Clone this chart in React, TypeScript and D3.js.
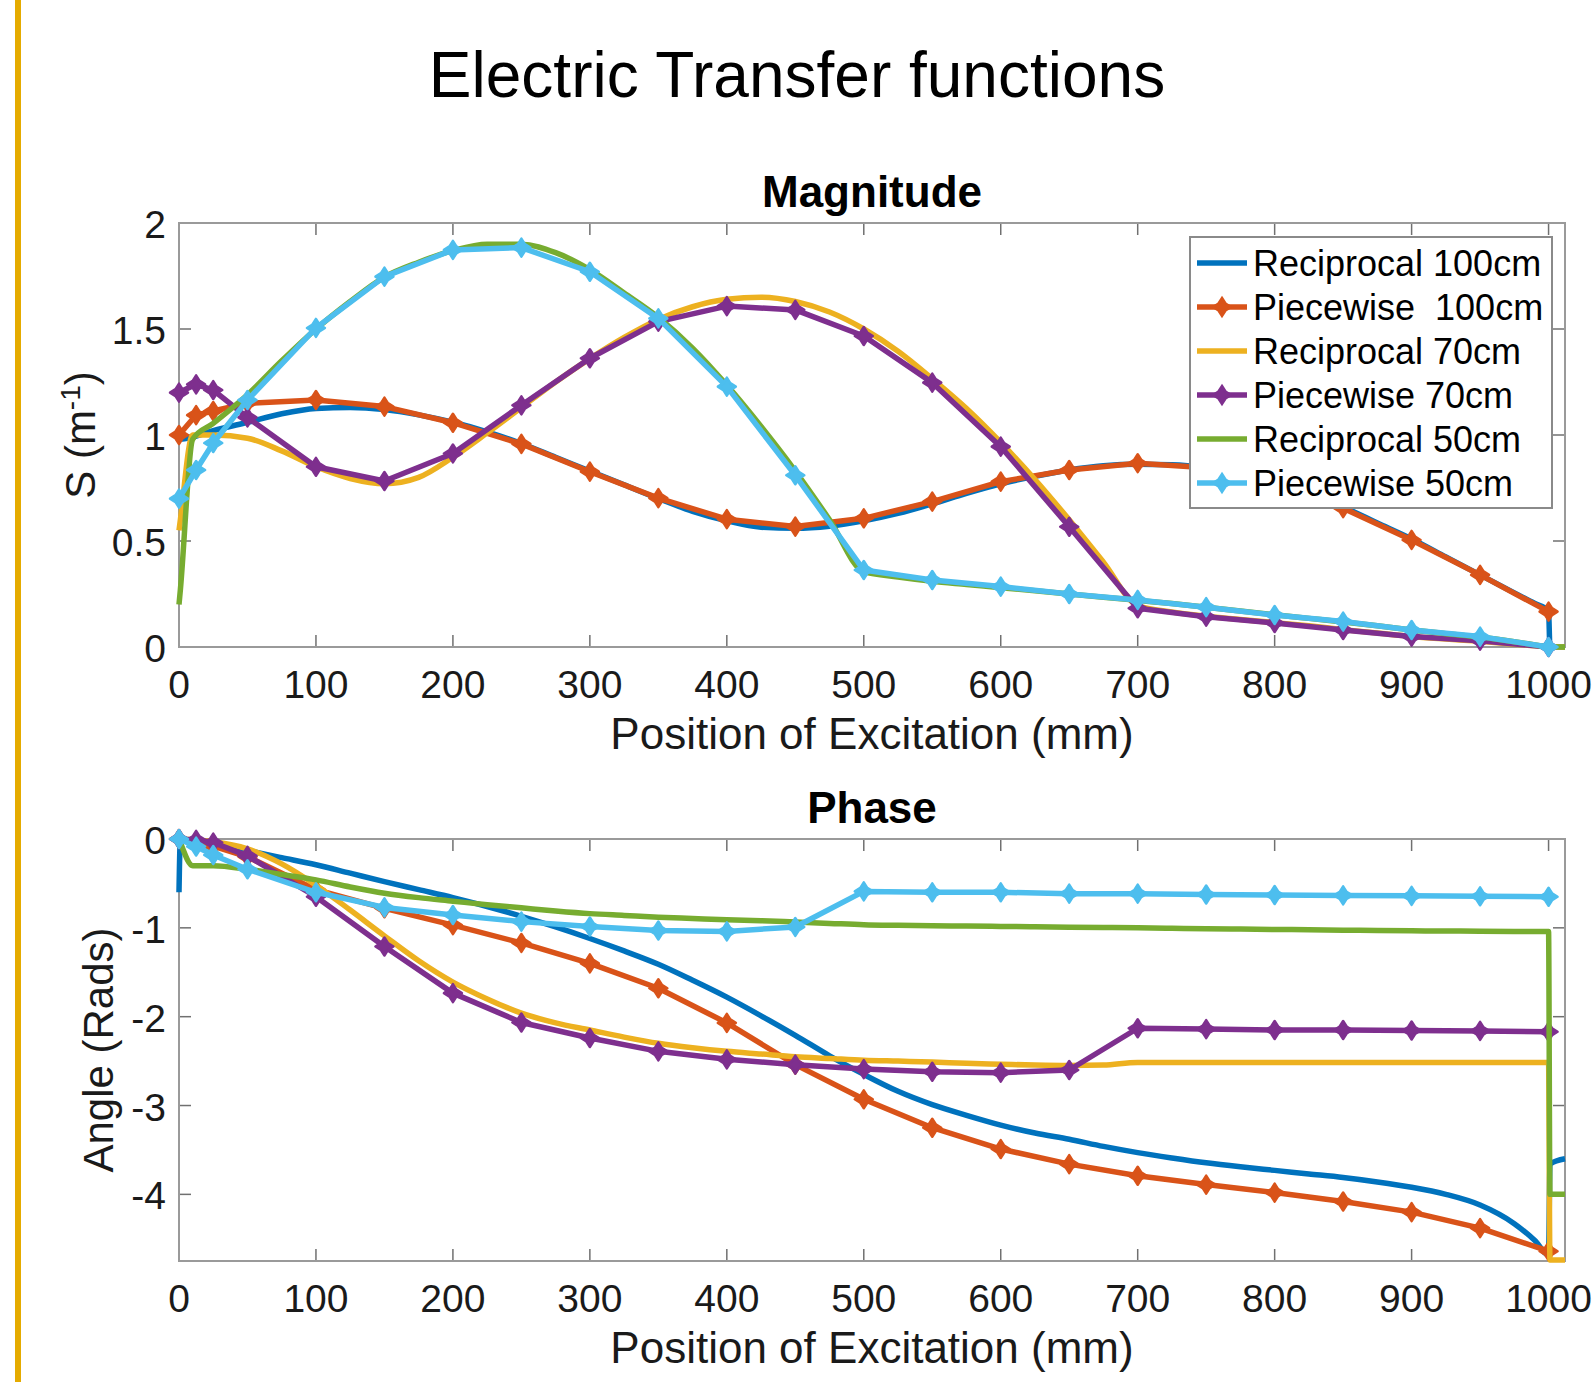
import React from 'react';
import * as d3 from 'd3';

// excitation positions (mm)
const X_PIECE = [0, 12.5, 25, 50, 100, 150, 200, 250, 300, 350, 400, 450, 500, 550, 600, 650, 700, 750, 800, 850, 900, 950, 1000];
const X_RECIP = [0, 1, 10, 25, 50, 75, 100, 125, 150, 175, 200, 225, 250, 275, 300, 325, 350, 375, 400, 425, 450, 475, 500, 525, 550, 575, 600, 625, 650, 675, 700, 725, 750, 775, 800, 825, 850, 875, 900, 925, 950, 975, 990, 1000, 1001, 1012];

// magnitude S (m^-1)
const MAG_RECIP_100 = [0.98, 0.98, 0.99, 1.02, 1.06, 1.10, 1.125, 1.13, 1.12, 1.095, 1.06, 1.015, 0.96, 0.895, 0.83, 0.765, 0.70, 0.64, 0.595, 0.565, 0.56, 0.57, 0.595, 0.63, 0.675, 0.725, 0.77, 0.805, 0.835, 0.855, 0.862, 0.86, 0.845, 0.815, 0.775, 0.72, 0.66, 0.585, 0.51, 0.425, 0.34, 0.255, 0.205, 0.17, 0.0, 0.0];
const MAG_PIECE_100 = [1.0, 1.094, 1.113, 1.15, 1.165, 1.134, 1.058, 0.958, 0.827, 0.702, 0.603, 0.568, 0.607, 0.686, 0.78, 0.835, 0.867, 0.845, 0.77, 0.655, 0.505, 0.34, 0.167];
const MAG_RECIP_70 = [0.55, 0.6, 1.0, 1.0, 0.985, 0.925, 0.85, 0.795, 0.77, 0.8, 0.895, 1.01, 1.13, 1.25, 1.36, 1.46, 1.545, 1.605, 1.64, 1.65, 1.63, 1.58, 1.50, 1.395, 1.265, 1.125, 0.965, 0.79, 0.6, 0.4, 0.195, 0.165, 0.145, 0.13, 0.115, 0.1, 0.082, 0.066, 0.05, 0.038, 0.027, 0.013, 0.006, 0.0, 0.0, 0.0];
const MAG_PIECE_70 = [1.2, 1.239, 1.212, 1.083, 0.85, 0.783, 0.913, 1.14, 1.362, 1.535, 1.608, 1.59, 1.467, 1.247, 0.945, 0.567, 0.183, 0.143, 0.113, 0.08, 0.049, 0.03, 0.0];
const MAG_RECIP_50 = [0.2, 0.27, 0.98, 1.055, 1.19, 1.35, 1.5, 1.63, 1.745, 1.815, 1.87, 1.9, 1.9, 1.86, 1.78, 1.67, 1.555, 1.41, 1.235, 1.04, 0.83, 0.6, 0.355, 0.33, 0.31, 0.295, 0.28, 0.265, 0.25, 0.235, 0.22, 0.205, 0.188, 0.17, 0.152, 0.135, 0.118, 0.1, 0.08, 0.063, 0.047, 0.025, 0.01, 0.0, 0.0, 0.0];
const MAG_PIECE_50 = [0.70, 0.835, 0.962, 1.165, 1.505, 1.747, 1.873, 1.884, 1.77, 1.55, 1.228, 0.81, 0.363, 0.316, 0.285, 0.25, 0.222, 0.188, 0.151, 0.12, 0.08, 0.049, 0.0];

// phase (rads)
const PH_RECIP_100 = [-0.6, -0.005, -0.02, -0.05, -0.13, -0.21, -0.29, -0.385, -0.48, -0.57, -0.66, -0.76, -0.87, -0.99, -1.12, -1.26, -1.41, -1.59, -1.78, -1.99, -2.21, -2.44, -2.65, -2.84, -2.99, -3.11, -3.22, -3.31, -3.38, -3.46, -3.53, -3.59, -3.645, -3.69, -3.73, -3.77, -3.81, -3.86, -3.92, -4.0, -4.12, -4.33, -4.52, -4.68, -3.66, -3.6];
const PH_PIECE_100 = [0, -0.03, -0.08, -0.2, -0.57, -0.78, -0.97, -1.17, -1.4, -1.68, -2.07, -2.54, -2.93, -3.25, -3.49, -3.66, -3.79, -3.89, -3.98, -4.08, -4.2, -4.38, -4.64];
const PH_RECIP_70 = [0, 0, -0.01, -0.03, -0.11, -0.28, -0.52, -0.8, -1.09, -1.37, -1.61, -1.8, -1.96, -2.07, -2.15, -2.23, -2.3, -2.35, -2.39, -2.42, -2.45, -2.47, -2.49, -2.5, -2.51, -2.525, -2.535, -2.545, -2.55, -2.545, -2.515, -2.515, -2.515, -2.515, -2.515, -2.515, -2.515, -2.515, -2.515, -2.515, -2.515, -2.515, -2.515, -2.515, -4.74, -4.74];
const PH_PIECE_70 = [0, -0.01, -0.04, -0.19, -0.65, -1.21, -1.735, -2.065, -2.24, -2.39, -2.48, -2.54, -2.59, -2.62, -2.63, -2.6, -2.13, -2.14, -2.15, -2.15, -2.155, -2.16, -2.17];
const PH_RECIP_50 = [0, -0.04, -0.3, -0.3, -0.34, -0.4, -0.46, -0.54, -0.61, -0.66, -0.7, -0.74, -0.775, -0.81, -0.84, -0.86, -0.88, -0.895, -0.91, -0.92, -0.935, -0.95, -0.965, -0.972, -0.977, -0.98, -0.984, -0.988, -0.992, -0.996, -1.0, -1.005, -1.01, -1.014, -1.018, -1.022, -1.026, -1.03, -1.033, -1.036, -1.038, -1.04, -1.041, -1.042, -4.0, -4.0];
const PH_PIECE_50 = [0, -0.085, -0.18, -0.34, -0.6, -0.77, -0.855, -0.93, -0.985, -1.03, -1.04, -0.99, -0.59, -0.6, -0.6, -0.615, -0.615, -0.625, -0.63, -0.635, -0.64, -0.645, -0.65];

const LEGEND_NAMES = ['Reciprocal 100cm', 'Piecewise  100cm', 'Reciprocal 70cm', 'Piecewise 70cm', 'Reciprocal 50cm', 'Piecewise 50cm'];
const COLORS = ['#0072BD', '#D95319', '#EDB120', '#7E2F8E', '#77AC30', '#4DBEEE'];

const X_TICKS = [0, 100, 200, 300, 400, 500, 600, 700, 800, 900, 1000];
const MAG_TICKS = [0, 0.5, 1, 1.5, 2];
const PH_TICKS = [0, -1, -2, -3, -4];

const FONT = '"Liberation Sans", Arial, Helvetica, sans-serif';

const series = LEGEND_NAMES.map((name, i) => {
  const piece = i % 2 === 1;
  const xs = piece ? X_PIECE : X_RECIP;
  const mag = [MAG_RECIP_100, MAG_PIECE_100, MAG_RECIP_70, MAG_PIECE_70, MAG_RECIP_50, MAG_PIECE_50][i];
  const ph = [PH_RECIP_100, PH_PIECE_100, PH_RECIP_70, PH_PIECE_70, PH_RECIP_50, PH_PIECE_50][i];
  return {
    name,
    color: COLORS[i],
    piece,
    mag: xs.map((x, k) => [x, mag[k]] as [number, number]),
    phase: xs.map((x, k) => [x, ph[k]] as [number, number]),
  };
});

const xScale = d3.scaleLinear().domain([0, 1012]).range([179, 1565]);

// four pointed star marker
const MARKER = 'M0,-9L3.5,-3.5L9,0L3.5,3.5L0,9L-3.5,3.5L-9,0L-3.5,-3.5Z';
const LW = 5.5;

function Panel({ yScale, yTicks, title, ylabel, field, legend, ylabelX, fmt }) {
  const [yb, yt] = yScale.range();
  const [xl, xr] = xScale.range();
  const recipLine = d3.line<[number, number]>()
    .x(d => xScale(d[0]))
    .y(d => yScale(d[1]))
    .curve(d3.curveMonotoneX);
  const pieceLine = d3.line<[number, number]>()
    .x(d => xScale(d[0]))
    .y(d => yScale(d[1]));
  const axisCol = '#9a9a9a';
  const tickCol = '#707070';

  return (
    <g fontFamily={FONT}>
      <text x={872} y={yt - 16} textAnchor="middle" fontSize={44} fontWeight="bold" fill="#000">{title}</text>

      {/* ticks */}
      {X_TICKS.map(t => (
        <g key={'x' + t}>
          <line x1={xScale(t)} x2={xScale(t)} y1={yb} y2={yb - 12} stroke={tickCol} strokeWidth={1.5} />
          <line x1={xScale(t)} x2={xScale(t)} y1={yt} y2={yt + 12} stroke={tickCol} strokeWidth={1.5} />
          <text x={xScale(t)} y={yb + 51} textAnchor="middle" fontSize={39} fill="#1a1a1a">{t}</text>
        </g>
      ))}
      {yTicks.map(t => (
        <g key={'y' + t}>
          <line x1={xl} x2={xl + 12} y1={yScale(t)} y2={yScale(t)} stroke={tickCol} strokeWidth={1.5} />
          <line x1={xr} x2={xr - 12} y1={yScale(t)} y2={yScale(t)} stroke={tickCol} strokeWidth={1.5} />
          <text x={xl - 13} y={yScale(t) + 15} textAnchor="end" fontSize={39} fill="#1a1a1a">{fmt(t)}</text>
        </g>
      ))}
      <rect x={xl} y={yt} width={xr - xl} height={yb - yt} fill="none" stroke={axisCol} strokeWidth={2} />

      {/* data */}
      {series.map(s => (
        <g key={s.name}>
          <path d={(s.piece ? pieceLine : recipLine)(s[field])} fill="none" stroke={s.color} strokeWidth={LW} strokeLinejoin="round" />
          {s.piece && s[field].map((d, k) => (
            <path key={k} d={MARKER} transform={`translate(${xScale(d[0])},${yScale(d[1])})`} fill={s.color} stroke={s.color} strokeWidth={2.5} strokeLinejoin="round" />
          ))}
        </g>
      ))}

      {/* axis labels */}
      <text x={872} y={yb + 102} textAnchor="middle" fontSize={44} fill="#1a1a1a">Position of Excitation (mm)</text>
      <text transform={`translate(${ylabelX},${(yt + yb) / 2}) rotate(-90)`} textAnchor="middle" fontSize={42} fill="#1a1a1a">{ylabel}</text>

      {legend && (
        <g>
          <rect x={1190} y={237} width={362} height={271} fill="#fff" stroke="#8a8a8a" strokeWidth={2} />
          {series.map((s, i) => {
            const ry = 263 + i * 44;
            return (
              <g key={'lg' + i}>
                <line x1={1197} x2={1247} y1={ry} y2={ry} stroke={s.color} strokeWidth={LW} />
                {s.piece && <path d={MARKER} transform={`translate(1222,${ry})`} fill={s.color} stroke={s.color} strokeWidth={2.5} />}
                <text x={1253} y={ry + 13} fontSize={36} fill="#000" style={{ whiteSpace: 'pre' }}>{s.name}</text>
              </g>
            );
          })}
        </g>
      )}
    </g>
  );
}

export default function App() {
  const magY = d3.scaleLinear().domain([0, 2]).range([647, 223]);
  const phY = d3.scaleLinear().domain([-4.75, 0]).range([1261, 839]);
  return (
    <svg width={1592} height={1382} style={{ position: 'absolute', left: 0, top: 0, background: '#fff' }}>
      <rect x={0} y={0} width={1592} height={1382} fill="#fff" />
      <rect x={15} y={0} width={6} height={1382} fill="#E5AB00" />
      <text x={797} y={97} textAnchor="middle" fontSize={64} fontFamily={FONT} fill="#000">Electric Transfer functions</text>
      <Panel
        yScale={magY}
        yTicks={MAG_TICKS}
        title="Magnitude"
        field="mag"
        legend
        ylabelX={95}
        fmt={t => String(t)}
        ylabel={<>S (m<tspan dy={-15} fontSize={28}>-1</tspan><tspan dy={15}>)</tspan></>}
      />
      <Panel
        yScale={phY}
        yTicks={PH_TICKS}
        title="Phase"
        field="phase"
        legend={false}
        ylabelX={113}
        fmt={t => (t === 0 ? '0' : String(t))}
        ylabel="Angle (Rads)"
      />
    </svg>
  );
}
